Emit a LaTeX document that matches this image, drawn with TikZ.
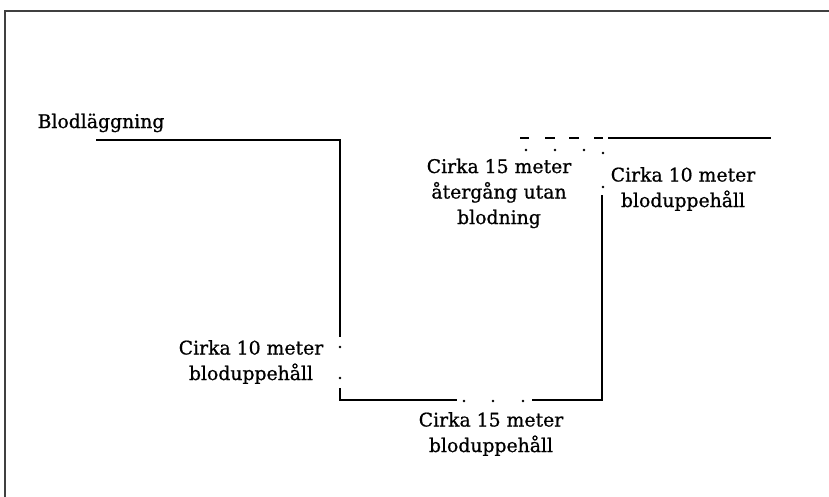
\documentclass[tikz,border=0pt]{standalone}
\usepackage{fontspec}
\setmainfont{DejaVu Serif}[FakeBold=0.8]
\begin{document}
\begin{tikzpicture}[x=1pt,y=-1pt,
  trail/.style={line width=2.8pt,line cap=rect},
  gapdot/.style={fill=black,circle,inner sep=0pt,minimum size=2.6pt},
  lbl/.style={font=\fontsize{18.8}{25.5}\selectfont,align=center,anchor=base,inner sep=0pt},
  frameline/.style={draw=black!75,line width=1.5pt}]
\useasboundingbox (0,0) rectangle (829,496);
\draw[frameline] (5,505) -- (5,11) -- (840,11);
% coordinates
\coordinate (a0) at (97,140);
\coordinate (a1) at (340,140);
\coordinate (a2) at (340,336);
\coordinate (b0) at (340,389);
\coordinate (b1) at (340,400);
\coordinate (b2) at (456,400);
\coordinate (c0) at (533,400);
\coordinate (c1) at (602,400);
\coordinate (c2) at (602,196);
\coordinate (d0) at (609,138);
\coordinate (d1) at (770,138);
\draw[trail] (a0) -- (a1) -- (a2);
\draw[trail] (b0) -- (b1) -- (b2);
\draw[trail] (c0) -- (c1) -- (c2);
\draw[trail] (d0) -- (d1);
% dashes on top
\foreach \i/\xa/\xb in {1/520/529,2/545/555,3/569/579,4/594/603}
  \draw[trail,line cap=butt] (\xa,138) -- (\xb,138);
% dots
\node[gapdot] (p1) at (340,347) {};
\node[gapdot] (p2) at (340,378) {};
\node[gapdot] (p3) at (464,401) {};
\node[gapdot] (p4) at (493,401) {};
\node[gapdot] (p5) at (523,401) {};
\node[gapdot] (p6) at (603,187) {};
\node[gapdot] (p7) at (603,153) {};
\node[gapdot] (p8) at (526,150) {};
\node[gapdot] (p9) at (555,150) {};
\node[gapdot] (p10) at (584,150) {};
% labels (base anchor = baseline of last line)
\node[lbl] (start) at (101,128) {Blodläggning};
\node[lbl] (l1) at (251,380) {Cirka 10 meter\\bloduppehåll};
\node[lbl] (l2) at (491,452) {Cirka 15 meter\\bloduppehåll};
\node[lbl] (l3) at (499,224) {Cirka 15 meter\\återgång utan\\blodning};
\node[lbl] (l4) at (683,207) {Cirka 10 meter\\bloduppehåll};
\end{tikzpicture}
\end{document}
